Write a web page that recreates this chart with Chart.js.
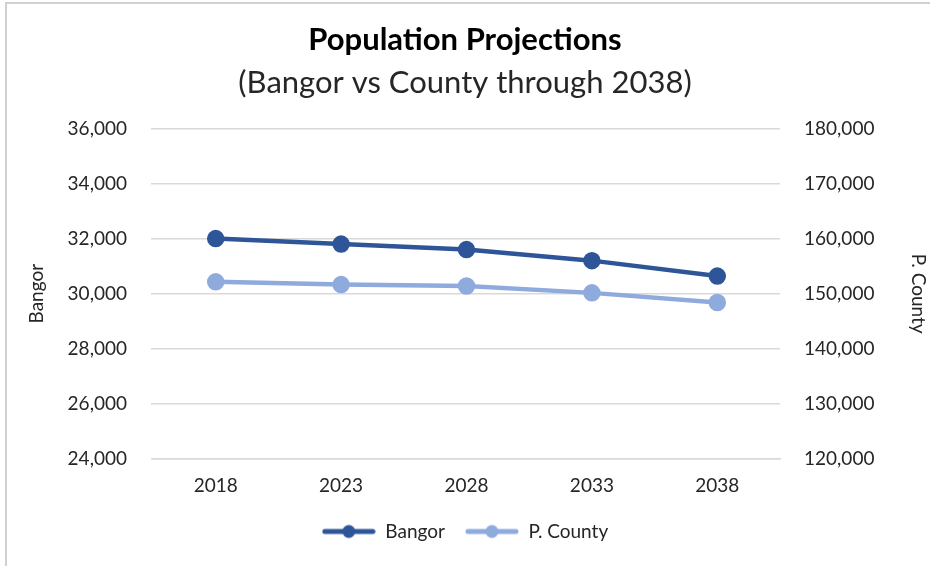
<!DOCTYPE html>
<html>
<head>
<meta charset="utf-8">
<script src="https://cdn.jsdelivr.net/npm/chart.js@4"></script>
<style>
  html, body { margin: 0; padding: 0; background: #fff; }
  #wrap { position: relative; width: 930px; height: 566px; overflow: hidden; }
  #frame { position: absolute; left: 5px; top: 2px; width: 940px; height: 580px;
           border-left: 2px solid #d0d0d0; border-top: 2px solid #d0d0d0; box-sizing: border-box; }
  canvas { position: absolute; left: 0; top: 0; }
</style>
</head>
<body>
<div id="wrap">
  <div id="frame"></div>
  <canvas id="c" width="930" height="566"></canvas>
</div>
<script>
const years = ['2018', '2023', '2028', '2033', '2038'];
const bangor = [32000, 31800, 31600, 31200, 30640];
const county = [152150, 151650, 151400, 150150, 148400];
const leftTicks = { min: 24000, max: 36000, step: 2000 };
const rightTicks = { min: 120000, max: 180000, step: 10000 };

const FONT = 'Lato, "Open Sans", sans-serif';
const TXT = '#262626';
const DARK = '#2E5597';
const LIGHT = '#8FAADC';

function legendIcon(color) {
  const c = document.createElement('canvas');
  c.width = 54; c.height = 16;
  const g = c.getContext('2d');
  g.strokeStyle = color; g.lineWidth = 5; g.lineCap = 'round';
  g.beginPath(); g.moveTo(3, 8); g.lineTo(51, 8); g.stroke();
  g.fillStyle = color;
  g.beginPath(); g.arc(27, 8, 6.5, 0, Math.PI * 2); g.fill();
  return c;
}
const icons = [legendIcon(DARK), legendIcon(LIGHT)];

new Chart(document.getElementById('c'), {
  type: 'line',
  data: {
    labels: years,
    datasets: [
      { label: 'Bangor', data: bangor, yAxisID: 'y', borderColor: DARK, backgroundColor: DARK,
        borderWidth: 4.5, pointRadius: 6.5, pointHoverRadius: 6.5, tension: 0 },
      { label: 'P. County', data: county, yAxisID: 'y1', borderColor: LIGHT, backgroundColor: LIGHT,
        borderWidth: 4.5, pointRadius: 6.5, pointHoverRadius: 6.5, tension: 0 }
    ]
  },
  options: {
    responsive: false,
    animation: false,
    events: [],
    layout: { padding: { left: 0, right: 0, top: 0, bottom: 15 } },
    plugins: {
      tooltip: { enabled: false },
      title: {
        display: true, text: 'Population Projections', color: '#000',
        font: { family: FONT, size: 31, weight: 'bold' },
        padding: { top: 21, bottom: 6 }
      },
      subtitle: {
        display: true, text: '(Bangor vs County through 2038)', color: TXT,
        font: { family: FONT, size: 31, weight: 'normal' },
        padding: { top: 0, bottom: 27 }
      },
      legend: {
        position: 'bottom',
        labels: {
          usePointStyle: true,
          pointStyleWidth: 54,
          boxHeight: 16,
          padding: 20,
          color: TXT,
          font: { family: FONT, size: 19 },
          generateLabels: (chart) => chart.data.datasets.map((ds, i) => ({
            text: ds.label, pointStyle: icons[i], fillStyle: ds.borderColor,
            strokeStyle: ds.borderColor, lineWidth: 0, datasetIndex: i, hidden: false,
            fontColor: TXT
          }))
        }
      }
    },
    scales: {
      x: {
        offset: true,
        grid: { display: false, drawTicks: false },
        border: { display: true, color: '#d9d9d9', width: 1.5 },
        ticks: { color: TXT, font: { family: FONT, size: 19 }, padding: 15 },
        afterFit: (s) => { s.height = 43; }
      },
      y: {
        position: 'left',
        min: leftTicks.min, max: leftTicks.max,
        ticks: { stepSize: leftTicks.step, color: TXT, font: { family: FONT, size: 19 }, padding: 24 },
        grid: { color: '#d9d9d9', lineWidth: 1.5, tickLength: 2 },
        border: { display: false },
        title: { display: true, text: 'Bangor', color: TXT, font: { family: FONT, size: 19 }, padding: { top: 25, bottom: 0 } },
        afterFit: (s) => { s.width = 153; }
      },
      y1: {
        position: 'right',
        min: rightTicks.min, max: rightTicks.max,
        ticks: { stepSize: rightTicks.step, color: TXT, font: { family: FONT, size: 19 }, padding: 24 },
        grid: { drawOnChartArea: false, color: '#d9d9d9', lineWidth: 1.5, tickLength: 0 },
        border: { display: false },
        title: { display: true, text: 'P. County', color: TXT, font: { family: FONT, size: 19 }, padding: 0 },
        afterFit: (s) => { s.width = 150; }
      }
    }
  }
});
</script>
</body>
</html>
